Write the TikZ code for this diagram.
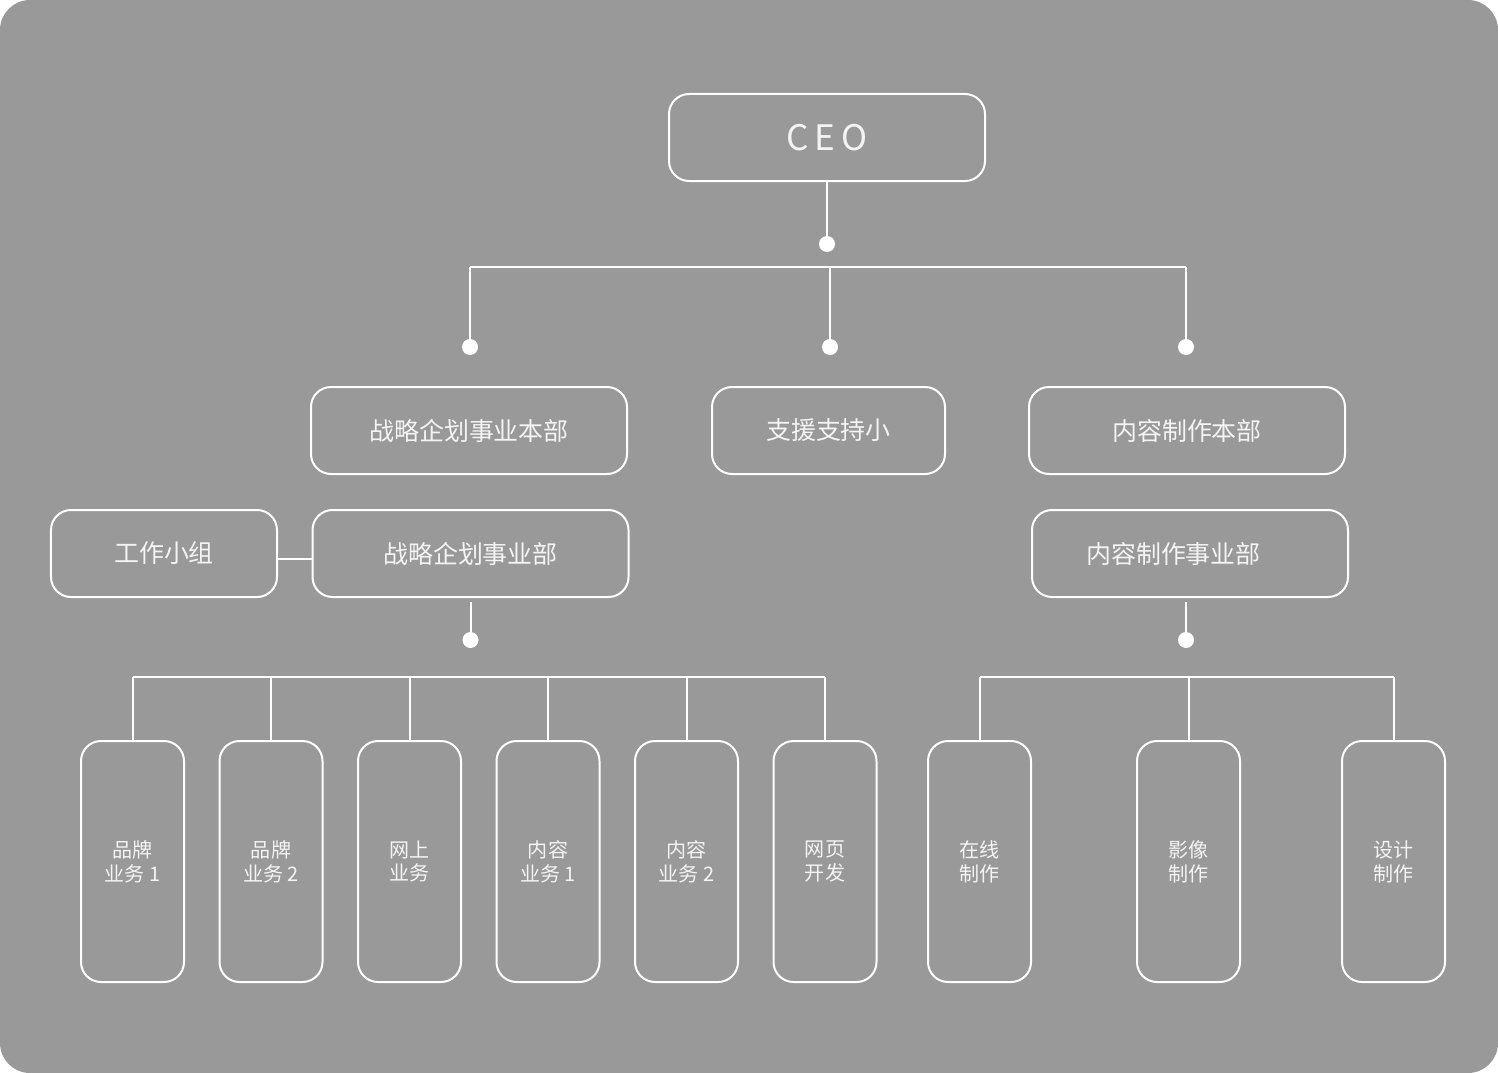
\documentclass[tikz,border=0pt]{standalone}
\usepackage{fontspec}
\setmainfont{Noto Sans CJK SC}
\definecolor{panel}{HTML}{999999}
\definecolor{ink}{HTML}{F4F4F4}

\begin{document}
\begin{tikzpicture}[x=0.5mm,y=-0.5mm,node distance=69.25mm,
	box/.style={draw=white,line width=1mm,rounded corners=10mm,text=ink,inner sep=0pt},
	unit/.style={box,minimum width=158mm,minimum height=43.5mm,font=\fontsize{35.5}{42}\selectfont},
	tall/.style={box,minimum width=51.5mm,minimum height=120.5mm,align=center,font=\fontsize{28.5}{34}\selectfont},
	dot/.style={circle,fill=white,inner sep=0pt,minimum size=8mm},
	wire/.style={draw=white,line width=1mm}]

\fill[panel,rounded corners=15mm] (0,0) rectangle (1498,1073);

\node[unit,font=\fontsize{50}{60}\selectfont\addfontfeature{LetterSpace=18}]   (ceo)   at (827,137.5)   {CEO};
\node[dot]   (c0)   at (827,244)   {};
\node[dot]   (d1)   at (470,347)   {};
\node[dot]   (d2)   at (830,347)   {};
\node[dot]   (d3)   at (1186,347)   {};

\node[unit]   (plan)   at (469,430.5)   {战略企划事业本部};
\node[unit,minimum width=116.5mm]   (help)   at (828.5,430.5)   {支援支持小};
\node[unit]   (cont)   at (1187,430.5)   {内容制作本部};

\node[unit,minimum width=113mm]   (team)   at (164,553.5)   {工作小组};
\node[unit]   (plandiv)   at (470.5,553.5)   {战略企划事业部};
\node[unit]   (contdiv)   at (1190,553.5)   {内容制作事业部\hbox to 16.5mm{}};
\node[dot]   (e1)   at (470.5,640)   {};
\node[dot]   (e2)   at (1186,640)   {};

\node[tall]   (b1)   at (132.5,861.5)   {品牌\\业务 1};
\node[tall]   (b2)[right of=b1]   {品牌\\业务 2};
\node[tall]   (b3)[right of=b2]   {网上\\业务};
\node[tall]   (b4)[right of=b3]   {内容\\业务 1};
\node[tall]   (b5)[right of=b4]   {内容\\业务 2};
\node[tall]   (b6)[right of=b5]   {网页\\开发};
\node[tall]   (b7)   at (979.5,861.5)   {在线\\制作};
\node[tall]   (b8)[node distance=104.5mm,right of=b7]   {影像\\制作};
\node[tall]   (b9)[node distance=102.5mm,right of=b8]   {设计\\制作};

\coordinate (topbar) at (0,267);
\coordinate (lowbar) at (0,677);

	\path[wire] (ceo)  edge   (c0)
				(d1)  edge   (d1 |- topbar)
				(d2)  edge   (d2 |- topbar)
				(d3)  edge   (d3 |- topbar)
				(d1 |- topbar)  edge   (d3 |- topbar)
				([yshift=-2.75mm]team.east)  edge   ([yshift=-2.75mm]plandiv.west)
				(plandiv)  edge[shorten <=2mm]   (e1)
				(contdiv.south -| e2)  edge[shorten <=2mm]   (e2);

	\path[wire] (b1.north |- lowbar)  edge   (b6.north |- lowbar)
				(b1.north)  edge   (b1.north |- lowbar)
				(b2.north)  edge   (b2.north |- lowbar)
				(b3.north)  edge   (b3.north |- lowbar)
				(b4.north)  edge   (b4.north |- lowbar)
				(b5.north)  edge   (b5.north |- lowbar)
				(b6.north)  edge   (b6.north |- lowbar)
				(b7.north |- lowbar)  edge   (b9.north |- lowbar)
				(b7.north)  edge   (b7.north |- lowbar)
				(b8.north)  edge   (b8.north |- lowbar)
				(b9.north)  edge   (b9.north |- lowbar);

\end{tikzpicture}
\end{document}
